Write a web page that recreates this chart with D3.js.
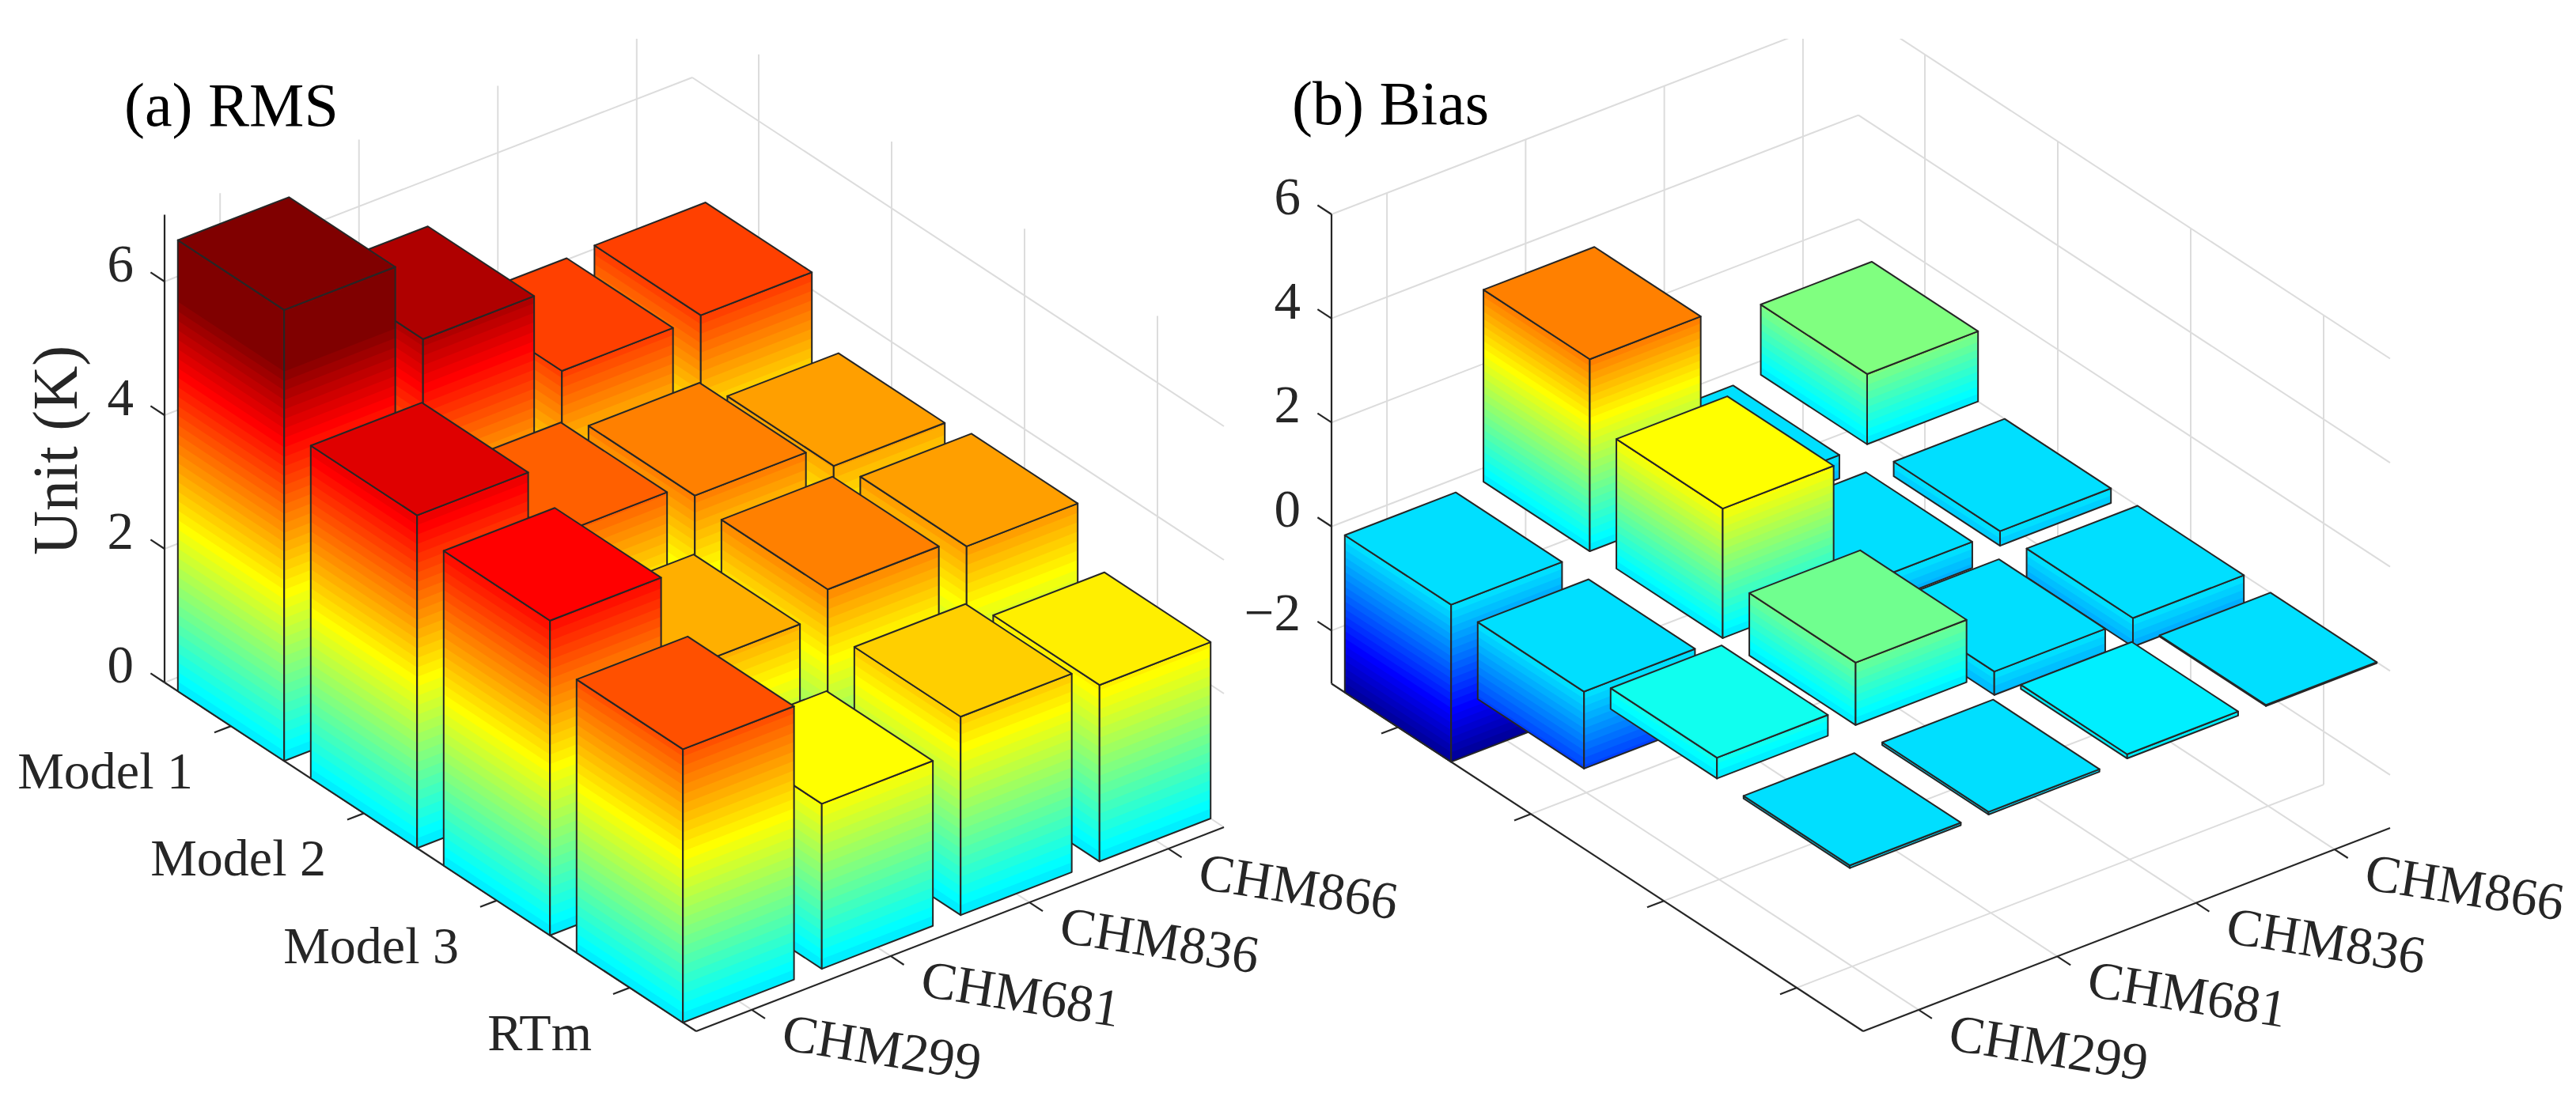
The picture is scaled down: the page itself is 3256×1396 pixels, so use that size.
<!DOCTYPE html>
<html>
<head>
<meta charset="utf-8">
<script src="https://cdn.jsdelivr.net/npm/d3@7"></script>
<style>
html, body { margin: 0; padding: 0; background: #fff; }
svg { display: block; }
text { font-family: "Liberation Serif", serif; fill: #262626; }
</style>
</head>
<body>
<script>
var w = 3256,
    h = 1396;

// row order: CHM299, CHM681, CHM836, CHM866
var channels = ["CHM299", "CHM681", "CHM836", "CHM866"];
var models = ["Model 1", "Model 2", "Model 3", "RTm"];

var rmsModel1 = [6.75, 5.51, 4.23, 4.26];
var rmsModel2 = [4.98, 3.88, 3.67, 3.31];
var rmsModel3 = [4.71, 3.21, 3.57, 3.41];
var rmsRTm = [4.09, 2.47, 2.97, 2.64];

var biasModel1 = [-3.02, 3.69, -0.45, 1.35];
var biasModel2 = [-1.48, 2.49, -0.5, -0.28];
var biasModel3 = [0.4, 1.2, -0.45, -0.55];
var biasRTm = [-0.05, -0.05, 0.08, -0.02];

var rmsTicks = [0, 2, 4, 6];
var biasTicks = [-2, 0, 2, 4, 6];

var svg = d3.select("body").append("svg")
    .attr("width", w)
    .attr("height", h);

svg.append("defs").append("clipPath")
    .attr("id", "cropTop")
    .append("rect")
    .attr("x", 0)
    .attr("y", 49)
    .attr("width", w)
    .attr("height", h);

// jet with 64 levels, same limits for both panels
var jet = d3.range(64).map(function(k) {
    var t = (k + 1) / 64;
    var c = function(o) { return Math.round(255 * Math.max(0, Math.min(1, 1.5 - Math.abs(4 * t - o)))); };
    return "rgb(" + c(3) + "," + c(2) + "," + c(1) + ")";
});
var color = d3.scaleQuantize().domain([-3.12, 5.97]).range(jet);

var path = d3.line();
var tickFormat = d3.format("d");

function panel(cfg) {
    var g = svg.append("g");

    var iFrac = d3.scaleLinear().domain([0.5, 4.5]).range([0, 1]);
    var jFrac = d3.scaleLinear().domain([0.6, 4.4]).range([0, 1]);
    var zPx = d3.scaleLinear().domain([cfg.zMin, cfg.zMax]).range([0, -cfg.zHeight]);

    function project(i, j, z) {
        var u = iFrac(i), v = jFrac(j);
        return [
            cfg.L[0] + u * (cfg.F[0] - cfg.L[0]) + v * (cfg.R[0] - cfg.F[0]),
            cfg.L[1] + u * (cfg.F[1] - cfg.L[1]) + v * (cfg.R[1] - cfg.F[1]) + zPx(z)
        ];
    }

    function gridLine(a, b) {
        grid.append("path")
            .attr("d", path([a, b]))
            .attr("fill", "none")
            .attr("stroke", "#dcdcdc")
            .attr("stroke-width", 2);
    }

    function axisLine(a, b) {
        g.append("path")
            .attr("d", path([a, b]))
            .attr("fill", "none")
            .attr("stroke", "#262626")
            .attr("stroke-width", 2.2);
    }

    var ticksI = [1, 2, 3, 4], ticksJ = [1, 2, 3, 4];

    // walls and floor
    var grid = g.append("g").attr("clip-path", "url(#cropTop)");
    ticksI.forEach(function(i) {
        gridLine(project(i, 0.6, cfg.zMin), project(i, 4.4, cfg.zMin));
        gridLine(project(i, 4.4, cfg.zMin), project(i, 4.4, cfg.zMax));
    });
    ticksJ.forEach(function(j) {
        gridLine(project(0.5, j, cfg.zMin), project(4.5, j, cfg.zMin));
        gridLine(project(0.5, j, cfg.zMin), project(0.5, j, cfg.zMax));
    });
    cfg.zTicks.forEach(function(z) {
        gridLine(project(0.5, 0.6, z), project(0.5, 4.4, z));
        gridLine(project(0.5, 4.4, z), project(4.5, 4.4, z));
    });

    // axes
    axisLine(project(0.5, 0.6, cfg.zMin), project(0.5, 0.6, cfg.zMax));
    axisLine(project(0.5, 0.6, cfg.zMin), project(4.5, 0.6, cfg.zMin));
    axisLine(project(4.5, 0.6, cfg.zMin), project(4.5, 4.4, cfg.zMin));

    cfg.zTicks.forEach(function(z) {
        axisLine(project(0.5, 0.6, z), project(0.395, 0.6, z));
        g.append("text")
            .attr("x", cfg.zLabelX)
            .attr("y", project(0.5, 0.6, z)[1])
            .attr("text-anchor", "end")
            .attr("font-size", 67)
            .text(tickFormat(z));
    });
    ticksI.forEach(function(i) {
        axisLine(project(i, 0.6, cfg.zMin), project(i, 0.48, cfg.zMin));
        if (cfg.showModels) {
            var p = project(i, 0.6, cfg.zMin);
            g.append("text")
                .attr("x", p[0] - 48)
                .attr("y", p[1] + 79)
                .attr("text-anchor", "end")
                .attr("font-size", 66)
                .text(models[i - 1]);
        }
    });
    ticksJ.forEach(function(j) {
        var p = project(4.5, j, cfg.zMin);
        axisLine(p, project(4.6, j, cfg.zMin));
        g.append("text")
            .attr("transform", "translate(" + (p[0] + 36) + "," + (p[1] + 50) + ") rotate(9)")
            .attr("font-size", 67)
            .text(channels[j - 1]);
    });

    // one face of a bar: colour bands stacked upward, then the outline
    function face(a, b, lo, hi) {
        var quad = function(z0, z1) {
            return path([project(a[0], a[1], z0), project(b[0], b[1], z0),
                project(b[0], b[1], z1), project(a[0], a[1], z1)]) + "Z";
        };
        var levels = [lo].concat(color.thresholds().filter(function(t) { return t > lo && t < hi; }));
        g.selectAll(null)
            .data(levels)
            .enter().append("path")
            .attr("d", function(d) { return quad(d, hi); })
            .attr("fill", function(d) { return color(d + 1e-6); });
        g.append("path")
            .attr("d", quad(lo, hi))
            .attr("fill", "none")
            .attr("stroke", "#262626")
            .attr("stroke-width", 2)
            .attr("stroke-linejoin", "round");
    }

    // back to front
    models.forEach(function(m, mi) {
        d3.range(3, -1, -1).forEach(function(cj) {
            var v = cfg.values[mi][cj];
            var i0 = mi + 0.6, i1 = mi + 1.4, j0 = cj + 0.6, j1 = cj + 1.4;
            var lo = Math.min(v, 0), hi = Math.max(v, 0);
            face([i0, j0], [i1, j0], lo, hi);
            face([i1, j0], [i1, j1], lo, hi);
            g.append("path")
                .attr("d", path([project(i0, j0, hi), project(i1, j0, hi), project(i1, j1, hi), project(i0, j1, hi)]) + "Z")
                .attr("fill", color(hi))
                .attr("stroke", "#262626")
                .attr("stroke-width", 2)
                .attr("stroke-linejoin", "round");
        });
    });

    g.append("text")
        .attr("x", cfg.titleX)
        .attr("y", cfg.titleY)
        .attr("font-size", 78)
        .style("fill", "#000")
        .text(cfg.title);
}

panel({
    values: [rmsModel1, rmsModel2, rmsModel3, rmsRTm],
    zTicks: rmsTicks,
    zMin: 0,
    zMax: 7,
    zHeight: 591.5,
    L: [208, 863],
    F: [880, 1304],
    R: [1547, 1046],
    zLabelX: 169,
    showModels: true,
    title: "(a) RMS",
    titleX: 157,
    titleY: 159
});

panel({
    values: [biasModel1, biasModel2, biasModel3, biasRTm],
    zTicks: biasTicks,
    zMin: -3.02,
    zMax: 6,
    zHeight: 593.5,
    L: [1683, 864.5],
    F: [2355, 1304],
    R: [3021, 1047],
    zLabelX: 1644,
    showModels: false,
    title: "(b) Bias",
    titleX: 1633,
    titleY: 157
});

svg.append("text")
    .attr("transform", "translate(97,569.5) rotate(-90)")
    .attr("text-anchor", "middle")
    .attr("font-size", 80)
    .attr("textLength", 265)
    .attr("lengthAdjust", "spacingAndGlyphs")
    .text("Unit (K)");
</script>
</body>
</html>
